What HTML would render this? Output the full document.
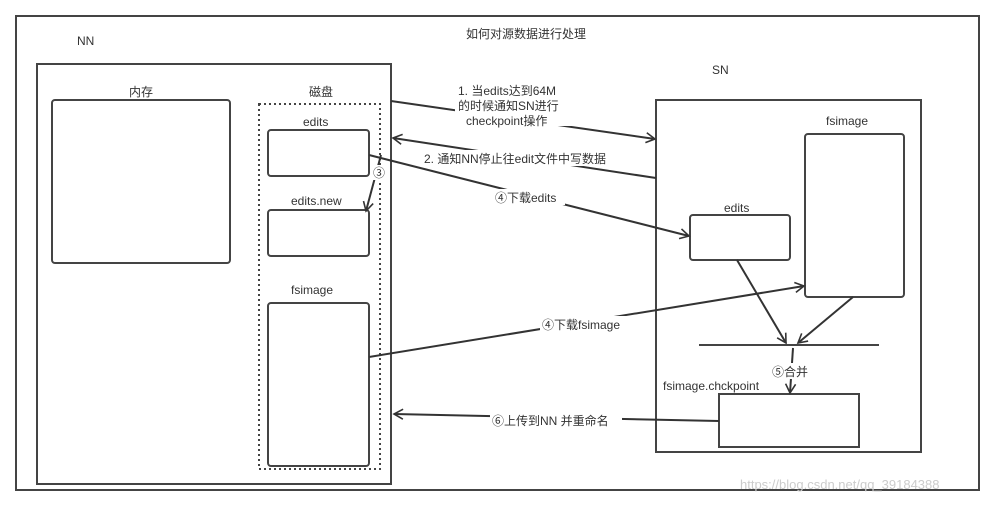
<!DOCTYPE html>
<html><head><meta charset="utf-8"><style>
body{margin:0;background:#fff;}
svg text{font-family:"Liberation Sans","Noto Sans CJK SC",sans-serif;font-size:12px;fill:#333;}
</style></head><body>
<svg width="991" height="504" xmlns="http://www.w3.org/2000/svg">
<defs><marker id="a" markerWidth="12" markerHeight="12" refX="10" refY="6" orient="auto" markerUnits="userSpaceOnUse"><path d="M1,1 L10,6 L1,11" fill="none" stroke="#333" stroke-width="1.6"/></marker></defs>
<g fill="none" stroke="#444" stroke-width="2">
<rect x="16" y="16" width="963" height="474"/>
<rect x="37" y="64" width="354" height="420"/>
<rect x="52" y="100" width="178" height="163" rx="3"/>
<rect x="259" y="104" width="121" height="365" stroke-dasharray="2,3"/>
<rect x="268" y="130" width="101" height="46" rx="3"/>
<rect x="268" y="210" width="101" height="46" rx="3"/>
<rect x="268" y="303" width="101" height="163" rx="3"/>
<rect x="656" y="100" width="265" height="352"/>
<rect x="805" y="134" width="99" height="163" rx="3"/>
<rect x="690" y="215" width="100" height="45" rx="3"/>
<rect x="719" y="394" width="140" height="53"/>
<line x1="699" y1="345" x2="879" y2="345"/>
</g>
<g stroke="#333" stroke-width="2" fill="none">
<line x1="391" y1="101" x2="655" y2="139" marker-end="url(#a)"/>
<line x1="656" y1="178" x2="393" y2="138" marker-end="url(#a)"/>
<line x1="381" y1="155" x2="366" y2="211" marker-end="url(#a)"/>
<line x1="369" y1="155" x2="689" y2="236" marker-end="url(#a)"/>
<line x1="369" y1="357" x2="804" y2="286" marker-end="url(#a)"/>
<line x1="737" y1="260" x2="786" y2="343" marker-end="url(#a)"/>
<line x1="853" y1="297" x2="798" y2="343" marker-end="url(#a)"/>
<line x1="793" y1="348" x2="790" y2="393" marker-end="url(#a)"/>
<line x1="719" y1="421" x2="394" y2="414" marker-end="url(#a)"/>
</g>
<g>
<rect x="455" y="82" width="120" height="44" fill="#fff"/>
<rect x="420" y="150" width="210" height="16" fill="#fff"/>
<rect x="493" y="189" width="72" height="16" fill="#fff"/>
<rect x="540" y="316" width="92" height="16" fill="#fff"/>
<rect x="770" y="363" width="44" height="16" fill="#fff"/>
<rect x="490" y="412" width="132" height="16" fill="#fff"/>
<rect x="372" y="165" width="14" height="15" fill="#fff"/>
</g>
<text x="466" y="38">如何对源数据进行处理</text>
<text x="77" y="45">NN</text>
<text x="712" y="74">SN</text>
<text x="129" y="96">内存</text>
<text x="309" y="96">磁盘</text>
<text x="303" y="126">edits</text>
<text x="291" y="205">edits.new</text>
<text x="291" y="294">fsimage</text>
<text x="826" y="125">fsimage</text>
<text x="724" y="212">edits</text>
<text x="663" y="390">fsimage.chckpoint</text>
<text x="458" y="95">1. 当edits达到64M</text>
<text x="458" y="110">的时候通知SN进行</text>
<text x="466" y="125">checkpoint操作</text>
<text x="424" y="163">2. 通知NN停止往edit文件中写数据</text>
<text x="373" y="177">③</text>
<text x="495" y="202">④下载edits</text>
<text x="542" y="329">④下载fsimage</text>
<text x="772" y="376">⑤合并</text>
<text x="492" y="425">⑥上传到NN 并重命名</text>
<text x="740" y="489" style="fill:#ccc;font-size:13px">https://blog.csdn.net/qq_39184388</text>
</svg>
</body></html>
